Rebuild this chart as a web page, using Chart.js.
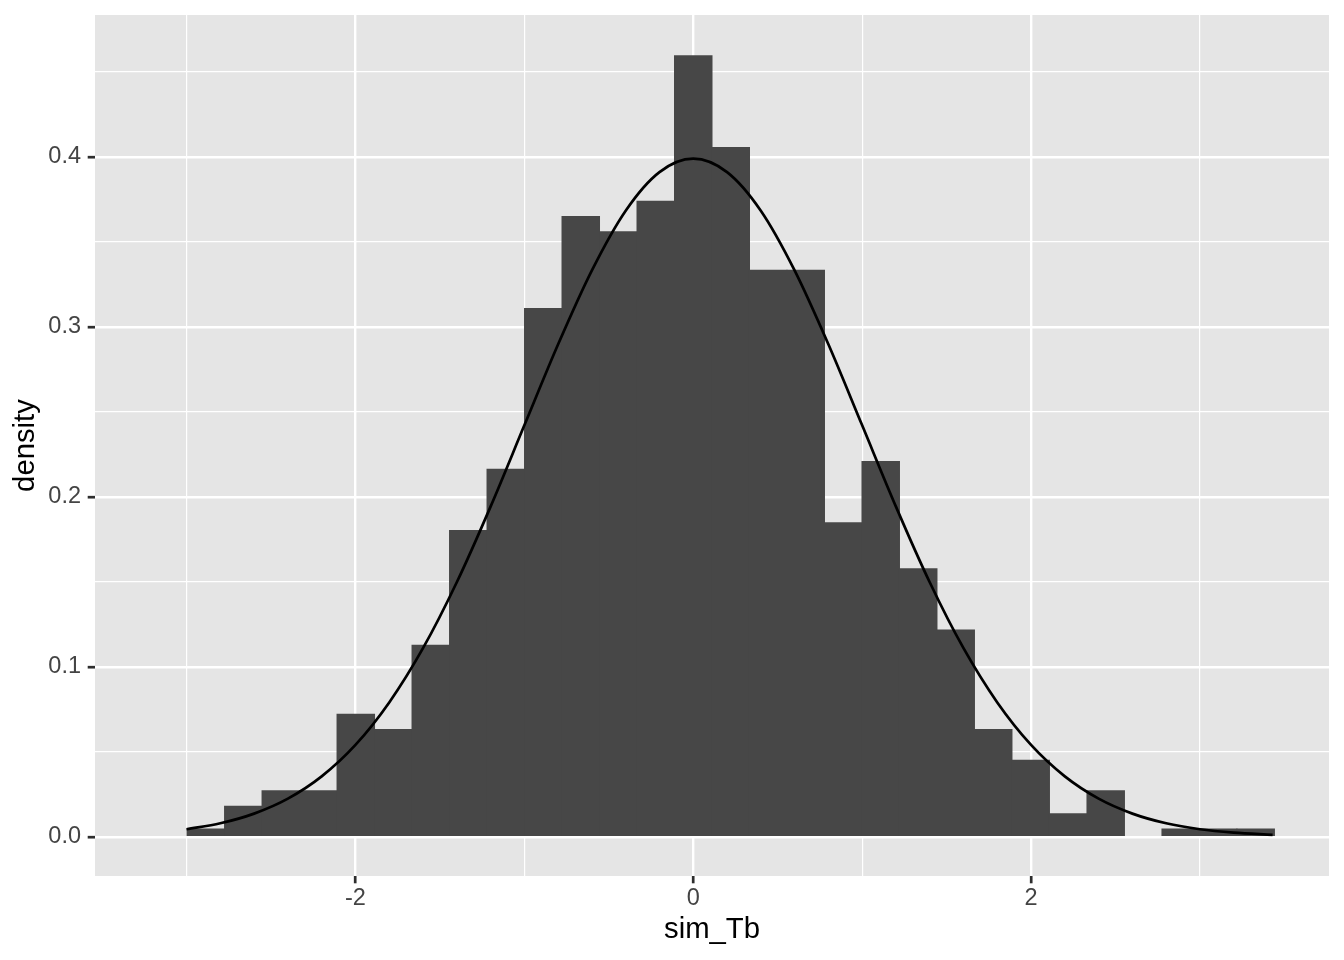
<!DOCTYPE html>
<html>
<head>
<meta charset="utf-8">
<script src="https://cdn.jsdelivr.net/npm/chart.js@4.4.1/dist/chart.umd.min.js"></script>
<style>
  html, body { margin: 0; padding: 0; background: #ffffff; }
  #wrap { width: 1344px; height: 960px; position: relative; }
</style>
</head>
<body>
<div id="wrap"><canvas id="c"></canvas></div>
<script>
// ---- data ----
const binCenters = [-2.886, -2.664, -2.442, -2.220, -1.998, -1.776, -1.554, -1.332, -1.110, -0.888,
                    -0.666, -0.444, -0.222, 0.000, 0.222, 0.444, 0.666, 0.888, 1.110, 1.332,
                    1.554, 1.776, 1.998, 2.220, 2.442, 2.664, 2.886, 3.108, 3.330];
const binDensity = [0.0045, 0.0180, 0.0270, 0.0270, 0.0721, 0.0631, 0.1126, 0.1802, 0.2162, 0.3108,
                    0.3649, 0.3559, 0.3739, 0.4595, 0.4054, 0.3333, 0.3333, 0.1847, 0.2207, 0.1577,
                    0.1216, 0.0631, 0.0450, 0.0135, 0.0270, 0.0000, 0.0045, 0.0045, 0.0045];
const curveX = [-3.0, -2.8, -2.6, -2.4, -2.2, -2.0, -1.8, -1.6, -1.4, -1.2, -1.0, -0.8, -0.6, -0.4, -0.2,
                0.0, 0.2, 0.4, 0.6, 0.8, 1.0, 1.2, 1.4, 1.6, 1.8, 2.0, 2.2, 2.4, 2.6, 2.8, 3.0, 3.2, 3.43];
const curveY = [0.0044, 0.0079, 0.0136, 0.0224, 0.0355, 0.0540, 0.0790, 0.1109, 0.1497, 0.1942, 0.2420,
                0.2897, 0.3332, 0.3683, 0.3910, 0.3989, 0.3910, 0.3683, 0.3332, 0.2897, 0.2420, 0.1942,
                0.1497, 0.1109, 0.0790, 0.0540, 0.0355, 0.0224, 0.0136, 0.0079, 0.0044, 0.0024, 0.0011];
const xMajorTicks = [-2, 0, 2];
const xMinorTicks = [-3, -1, 1, 3];
const yMajorTicks = [0, 0.1, 0.2, 0.3, 0.4];
const yMinorTicks = [0.05, 0.15, 0.25, 0.35, 0.45];
const xTitle = 'sim_Tb';
const yTitle = 'density';

// ---- build chart ----
const barData = binCenters.map((x, i) => ({ x: x, y: binDensity[i] }));
const lineData = curveX.map((x, i) => ({ x: x, y: curveY[i] }));

const isMajor = (v, list) => list.some(m => Math.abs(m - v) < 1e-9);
const tickIsMajor = (c, list) => !!(c && c.tick && isMajor(c.tick.value, list));
const FONT = "'Liberation Sans', Arial, Helvetica, sans-serif";

const panelBg = {
  id: 'panelBg',
  beforeDraw(chart) {
    const { ctx, chartArea: a } = chart;
    ctx.save();
    ctx.fillStyle = '#E5E5E5';
    ctx.fillRect(a.left, a.top, a.right - a.left, a.bottom - a.top);
    ctx.restore();
  }
};

new Chart(document.getElementById('c'), {
  type: 'bar',
  data: {
    datasets: [
      {
        type: 'line',
        data: lineData,
        borderColor: '#000000',
        borderWidth: 2.7,
        pointRadius: 0,
        fill: false,
        cubicInterpolationMode: 'monotone',
        order: 1
      },
      {
        type: 'bar',
        data: barData,
        backgroundColor: '#474747',
        borderWidth: 0,
        barPercentage: 1,
        categoryPercentage: 1,
        inflateAmount: (ctx) => (ctx.raw && ctx.raw.y > 0 ? 0.5 : 0),
        order: 2
      }
    ]
  },
  options: {
    responsive: true,
    maintainAspectRatio: false,
    animation: false,
    layout: { padding: { top: 15, right: 15, left: 0, bottom: 0 } },
    plugins: { legend: { display: false }, tooltip: { enabled: false } },
    scales: {
      x: {
        type: 'linear',
        offset: false,
        min: -3.542,
        max: 3.764,
        afterBuildTicks: (s) => {
          s.ticks = xMajorTicks.concat(xMinorTicks).sort((a, b) => a - b).map(v => ({ value: v }));
        },
        afterFit: (s) => { s.height = 84; s.paddingLeft = 0; s.paddingRight = 0; },
        border: { display: false },
        grid: {
          offset: false,
          color: '#FFFFFF',
          lineWidth: (c) => (tickIsMajor(c, xMajorTicks) ? 2.4 : 1.2),
          tickLength: 7.3,
          tickWidth: 2.7,
          tickColor: (c) => (tickIsMajor(c, xMajorTicks) ? '#2E2E2E' : 'rgba(0,0,0,0)')
        },
        ticks: {
          autoSkip: false,
          maxRotation: 0,
          padding: 1.2,
          color: '#444444',
          font: { family: FONT, size: 23.5 },
          callback: (v) => (isMajor(v, xMajorTicks) ? String(v) : '')
        },
        title: {
          display: true,
          text: xTitle,
          color: '#000000',
          font: { family: FONT, size: 29.3 },
          padding: { top: 0, bottom: 12.6 }
        }
      },
      y: {
        type: 'linear',
        min: -0.0231,
        max: 0.4834,
        afterBuildTicks: (s) => {
          s.ticks = yMajorTicks.concat(yMinorTicks).sort((a, b) => a - b).map(v => ({ value: v }));
        },
        afterFit: (s) => { s.width = 95; s.paddingTop = 0; s.paddingBottom = 0; },
        border: { display: false },
        grid: {
          color: '#FFFFFF',
          lineWidth: (c) => (tickIsMajor(c, yMajorTicks) ? 2.4 : 1.2),
          tickLength: 7.3,
          tickWidth: 2.7,
          tickColor: (c) => (tickIsMajor(c, yMajorTicks) ? '#2E2E2E' : 'rgba(0,0,0,0)')
        },
        ticks: {
          autoSkip: false,
          padding: 6.7,
          color: '#444444',
          font: { family: FONT, size: 23.5 },
          callback: (v) => (isMajor(v, yMajorTicks) ? v.toFixed(1) : '')
        },
        title: {
          display: true,
          text: yTitle,
          color: '#000000',
          font: { family: FONT, size: 29.3 },
          padding: { top: 8.6, bottom: 0 }
        }
      }
    }
  },
  plugins: [panelBg]
});
</script>
</body>
</html>
